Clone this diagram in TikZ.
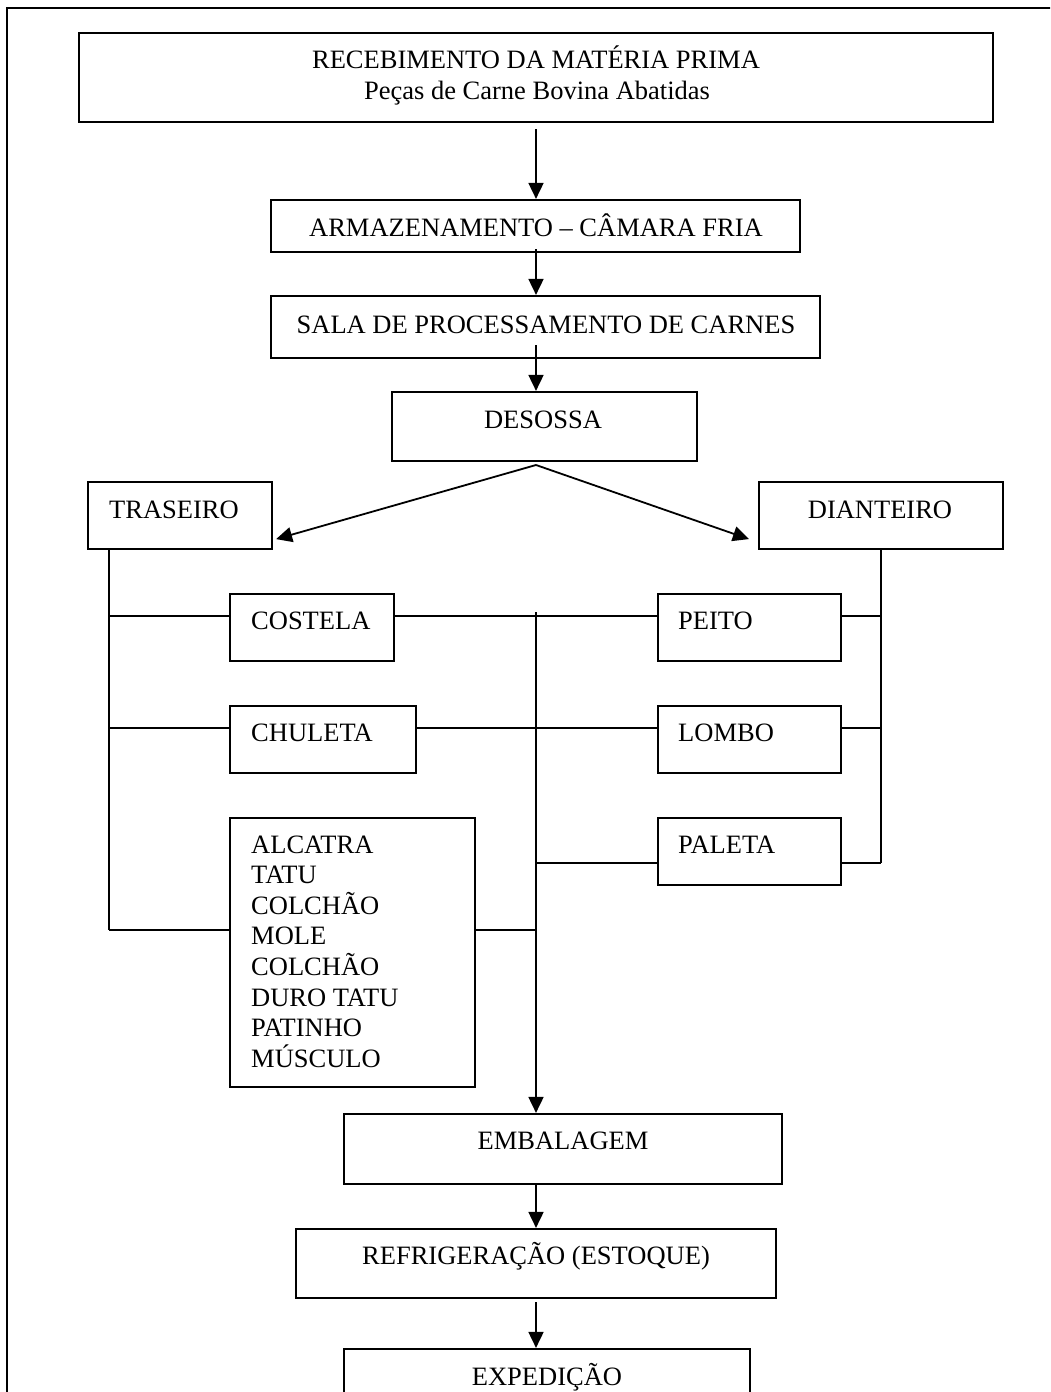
\documentclass[tikz,border=0pt]{standalone}
\usepackage{fontspec}
\setmainfont{Liberation Serif}
\usetikzlibrary{arrows.meta,calc,fit}
\begin{document}
\begin{tikzpicture}[x=1pt,y=-1pt,
  box/.style={draw, line width=2.2pt, rectangle, inner sep=0pt},
  conn/.style={line width=1.8pt},
  arr/.style={line width=1.8pt, -{Triangle[length=16pt,width=15pt]}},
  txt/.style={inner sep=0pt, font=\fontsize{26.5}{31}\selectfont},
]
\useasboundingbox (0,0) rectangle (1050,1392);
\clip (0,0) rectangle (1050,1392);
% outer frame (top and left only visible)
\draw[line width=2.5pt] (1060,8) -- (7,8) -- (7,1400);

% boxes
\node[box, fit={(79,33) (993,122)}] (rec) {};
\node[box, fit={(271,200) (800,252)}] (arm) {};
\node[box, fit={(271,296) (820,358)}] (sala) {};
\node[box, fit={(392,392) (697,461)}] (des) {};
\node[box, fit={(88,482) (272,549)}] (tra) {};
\node[box, fit={(759,482) (1003,549)}] (dia) {};
\node[box, fit={(230,594) (394,661)}] (cos) {};
\node[box, fit={(230,706) (416,773)}] (chu) {};
\node[box, fit={(230,818) (475,1087)}] (alc) {};
\node[box, fit={(658,594) (841,661)}] (pei) {};
\node[box, fit={(658,706) (841,773)}] (lom) {};
\node[box, fit={(658,818) (841,885)}] (pal) {};
\node[box, fit={(344,1114) (782,1184)}] (emb) {};
\node[box, fit={(296,1229) (776,1298)}] (ref) {};
\node[box, fit={(344,1349) (750,1440)}] (exp) {};

% texts
\node[txt, anchor=base] (trec1) at (536,68) {RECEBIMENTO DA MATÉRIA PRIMA};
\node[txt, anchor=base] (trec2) at (537,99) {Peças de Carne Bovina Abatidas};
\node[txt, anchor=base] (tarm) at (536,236) {ARMAZENAMENTO – CÂMARA FRIA};
\node[txt, anchor=base] (tsala) at (546,333) {SALA DE PROCESSAMENTO DE CARNES};
\node[txt, anchor=base] (tdes) at (543,428) {DESOSSA};
\node[txt, anchor=base west] (ttra) at (109,518) {TRASEIRO};
\node[txt, anchor=base] (tdia) at (880,518) {DIANTEIRO};
\node[txt, anchor=base west] (tcos) at (251,629) {COSTELA};
\node[txt, anchor=base west] (tchu) at (251,741) {CHULETA};
\node[txt, anchor=base west] (tpei) at (678,629) {PEITO};
\node[txt, anchor=base west] (tlom) at (678,741) {LOMBO};
\node[txt, anchor=base west] (tpal) at (678,853) {PALETA};
\foreach \t [count=\i from 0] in {ALCATRA,TATU,COLCHÃO,MOLE,COLCHÃO,DURO TATU,PATINHO,MÚSCULO}
  \node[txt, anchor=base west] (talc\i) at (251,{853+30.6*\i}) {\t};
\node[txt, anchor=base] (temb) at (563,1149) {EMBALAGEM};
\node[txt, anchor=base] (tref) at (536,1264) {REFRIGERAÇÃO (ESTOQUE)};
\node[txt, anchor=base] (texp) at (547,1385) {EXPEDIÇÃO};

% helper coordinates
\coordinate (spine) at (536,0);
\coordinate (lx) at (109,0);
\coordinate (rx) at (881,0);
\coordinate (r1) at (0,616);
\coordinate (r2) at (0,728);
\coordinate (r3) at (0,930);
\coordinate (r4) at (0,863);
\coordinate (apex) at (536,465);
\coordinate (sptop) at (536,612);

% main flow arrows
\draw[arr] ($(rec.south -| spine)+(0,6)$) -- (arm.north -| spine);
\draw[arr] ($(arm.south -| spine)+(0,-4)$) -- (sala.north -| spine);
\draw[arr] ($(sala.south -| spine)+(0,-14)$) -- (des.north -| spine);
\draw[arr] (apex) -- ([xshift=3pt,yshift=11pt]tra.south east);
\draw[arr] (apex) -- ([xshift=-9pt,yshift=11pt]dia.south west);

% left trunk
\draw[conn] (tra.south -| lx) -- (lx |- r3);
\draw[conn] (lx |- r1) -- (cos.west |- r1);
\draw[conn] (lx |- r2) -- (chu.west |- r2);
\draw[conn] (lx |- r3) -- (alc.west |- r3);
% right trunk
\draw[conn] (dia.south -| rx) -- (rx |- r4);
\draw[conn] (pei.east |- r1) -- (rx |- r1);
\draw[conn] (lom.east |- r2) -- (rx |- r2);
\draw[conn] (pal.east |- r4) -- (rx |- r4);
% cross links
\draw[conn] (cos.east |- r1) -- (pei.west |- r1);
\draw[conn] (chu.east |- r2) -- (lom.west |- r2);
\draw[conn] (alc.east |- r3) -- (spine |- r3);
\draw[conn] (spine |- r4) -- (pal.west |- r4);
% spine
\draw[arr] (sptop) -- (emb.north -| spine);
\draw[arr] (emb.south -| spine) -- (ref.north -| spine);
\draw[arr] ($(ref.south -| spine)+(0,3)$) -- (exp.north -| spine);
\end{tikzpicture}
\end{document}
